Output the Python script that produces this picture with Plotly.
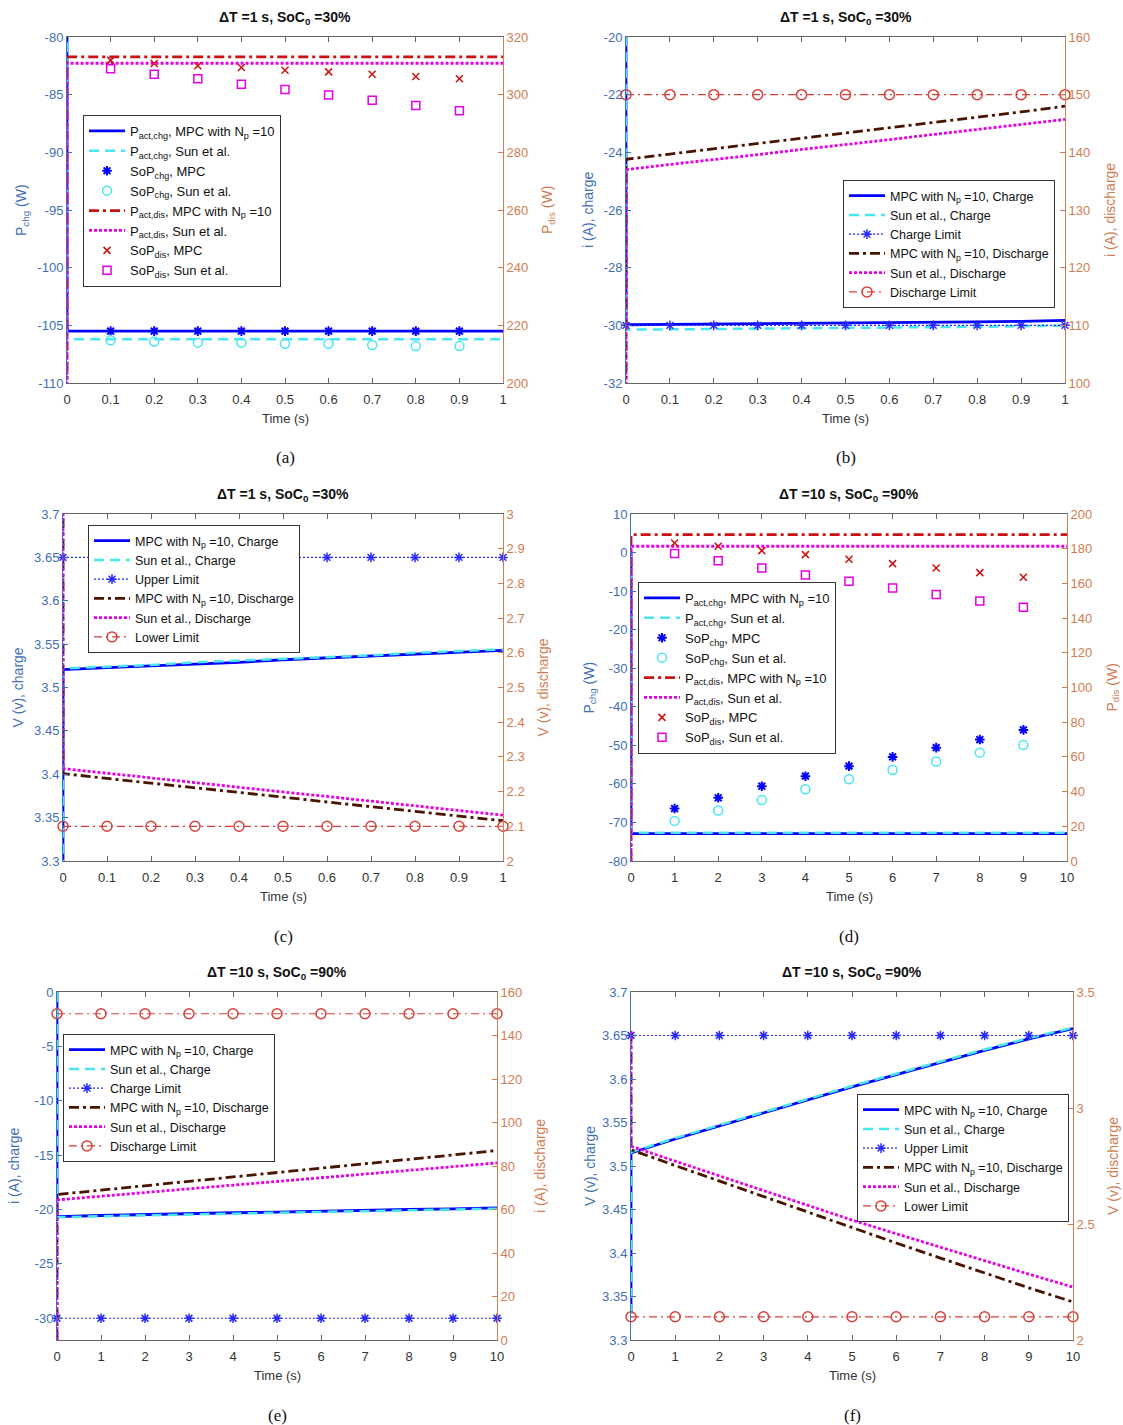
import plotly.graph_objects as go

FIG_W, FIG_H = 1123, 1425

# ---------------- time bases ----------------
# first sample of each line is the rest state at t = 0 (off-scale transient)
T1_LINE = [0, 0, 0.1, 0.2, 0.3, 0.4, 0.5, 0.6, 0.7, 0.8, 0.9, 1.0]
T1_MARK = [0.1, 0.2, 0.3, 0.4, 0.5, 0.6, 0.7, 0.8, 0.9]
T1_LIM = [0, 0.1, 0.2, 0.3, 0.4, 0.5, 0.6, 0.7, 0.8, 0.9, 1.0]
T10_LINE = [0, 0, 1, 2, 3, 4, 5, 6, 7, 8, 9, 10]
T10_MARK = [1, 2, 3, 4, 5, 6, 7, 8, 9]
T10_LIM = [0, 1, 2, 3, 4, 5, 6, 7, 8, 9, 10]

# ---------------- (a) dT = 1 s, SoC0 = 30 %, power ----------------
A_PCHG_MPC = [0, -105.5, -105.5, -105.5, -105.5, -105.5, -105.5, -105.5, -105.5, -105.5, -105.5, -105.5]
A_PCHG_SUN = [0, -106.2, -106.2, -106.2, -106.2, -106.2, -106.2, -106.2, -106.2, -106.2, -106.2, -106.2]
A_SOPCHG_MPC = [-105.5, -105.5, -105.5, -105.5, -105.5, -105.5, -105.5, -105.5, -105.5]
A_SOPCHG_SUN = [-106.3, -106.4, -106.5, -106.5, -106.6, -106.6, -106.7, -106.8, -106.8]
A_PDIS_MPC = [0, 313.1, 313.1, 313.1, 313.1, 313.1, 313.1, 313.1, 313.1, 313.1, 313.1, 313.1]
A_PDIS_SUN = [0, 310.9, 310.9, 310.9, 310.9, 310.9, 310.9, 310.9, 310.9, 310.9, 310.9, 310.9]
A_SOPDIS_MPC = [311.9, 310.8, 310.0, 309.4, 308.5, 307.9, 307.1, 306.3, 305.5]
A_SOPDIS_SUN = [309.0, 307.1, 305.5, 303.6, 301.8, 299.9, 298.1, 296.2, 294.4]

# ---------------- (b) dT = 1 s, SoC0 = 30 %, current ----------------
B_ICHG_MPC = [0, -29.98, -29.97, -29.96, -29.95, -29.94, -29.93, -29.91, -29.90, -29.88, -29.86, -29.83]
B_ICHG_SUN = [0, -30.15, -30.14, -30.13, -30.12, -30.10, -30.09, -30.08, -30.06, -30.05, -30.03, -30.01]
B_CHG_LIMIT = [-30, -30, -30, -30, -30, -30, -30, -30, -30, -30, -30]
B_IDIS_MPC = [0, 138.8, 139.7, 140.6, 141.5, 142.4, 143.3, 144.2, 145.1, 146.1, 147.0, 148.0]
B_IDIS_SUN = [0, 137.0, 137.9, 138.7, 139.6, 140.5, 141.3, 142.2, 143.1, 144.0, 144.8, 145.7]
B_DIS_LIMIT = [150, 150, 150, 150, 150, 150, 150, 150, 150, 150, 150]

# ---------------- (c) dT = 1 s, SoC0 = 30 %, voltage ----------------
C_VCHG_MPC = [3.29, 3.5205, 3.523, 3.525, 3.527, 3.529, 3.532, 3.534, 3.536, 3.538, 3.540, 3.5427]
C_VCHG_SUN = [3.29, 3.522, 3.524, 3.526, 3.529, 3.531, 3.533, 3.535, 3.537, 3.540, 3.542, 3.544]
C_UPPER = [3.65, 3.65, 3.65, 3.65, 3.65, 3.65, 3.65, 3.65, 3.65, 3.65, 3.65]
C_VDIS_MPC = [3.29, 2.252, 2.238, 2.225, 2.211, 2.198, 2.184, 2.170, 2.157, 2.143, 2.130, 2.116]
C_VDIS_SUN = [3.29, 2.266, 2.253, 2.239, 2.226, 2.212, 2.199, 2.186, 2.172, 2.159, 2.145, 2.132]
C_LOWER = [2.1, 2.1, 2.1, 2.1, 2.1, 2.1, 2.1, 2.1, 2.1, 2.1, 2.1]

# ---------------- (d) dT = 10 s, SoC0 = 90 %, power ----------------
D_PCHG_MPC = [0, -72.9, -72.9, -72.9, -72.9, -72.9, -72.9, -72.9, -72.9, -72.9, -72.9, -72.9]
D_PCHG_SUN = [0, -72.7, -72.7, -72.7, -72.7, -72.7, -72.7, -72.7, -72.7, -72.7, -72.7, -72.7]
D_SOPCHG_MPC = [-66.4, -63.6, -60.6, -58.0, -55.4, -53.0, -50.6, -48.5, -46.0]
D_SOPCHG_SUN = [-69.6, -66.9, -64.2, -61.4, -58.8, -56.4, -54.2, -51.9, -49.9]
D_PDIS_MPC = [0, 188.1, 188.1, 188.1, 188.1, 188.1, 188.1, 188.1, 188.1, 188.1, 188.1, 188.1]
D_PDIS_SUN = [0, 181.4, 181.4, 181.4, 181.4, 181.4, 181.4, 181.4, 181.4, 181.4, 181.4, 181.4]
D_SOPDIS_MPC = [183.3, 181.4, 178.9, 176.6, 173.9, 171.4, 168.9, 166.2, 163.5]
D_SOPDIS_SUN = [177.2, 173.1, 168.9, 164.9, 161.2, 157.4, 153.6, 149.9, 146.3]

# ---------------- (e) dT = 10 s, SoC0 = 90 %, current ----------------
E_ICHG_MPC = [0, -20.65, -20.55, -20.45, -20.40, -20.30, -20.25, -20.15, -20.10, -20.00, -19.95, -19.85]
E_ICHG_SUN = [0, -20.72, -20.62, -20.53, -20.46, -20.37, -20.30, -20.22, -20.15, -20.07, -20.00, -19.92]
E_CHG_LIMIT = [-30, -30, -30, -30, -30, -30, -30, -30, -30, -30, -30]
E_IDIS_MPC = [0, 66.9, 68.9, 70.9, 72.9, 74.9, 76.9, 79.0, 81.0, 83.0, 85.1, 87.1]
E_IDIS_SUN = [0, 64.4, 66.1, 67.8, 69.5, 71.2, 72.9, 74.6, 76.3, 78.0, 79.7, 81.4]
E_DIS_LIMIT = [150, 150, 150, 150, 150, 150, 150, 150, 150, 150, 150]

# ---------------- (f) dT = 10 s, SoC0 = 90 %, voltage ----------------
F_VCHG_MPC = [3.33, 3.515, 3.531, 3.546, 3.561, 3.576, 3.591, 3.605, 3.619, 3.633, 3.646, 3.658]
F_VCHG_SUN = [3.33, 3.516, 3.532, 3.547, 3.562, 3.577, 3.592, 3.606, 3.620, 3.634, 3.647, 3.659]
F_UPPER = [3.65, 3.65, 3.65, 3.65, 3.65, 3.65, 3.65, 3.65, 3.65, 3.65, 3.65]
F_VDIS_MPC = [3.33, 2.820, 2.752, 2.685, 2.618, 2.550, 2.483, 2.418, 2.353, 2.288, 2.225, 2.164]
F_VDIS_SUN = [3.33, 2.835, 2.771, 2.707, 2.643, 2.580, 2.517, 2.458, 2.399, 2.341, 2.284, 2.228]
F_LOWER = [2.1, 2.1, 2.1, 2.1, 2.1, 2.1, 2.1, 2.1, 2.1, 2.1, 2.1]

# ---------------- tick labels ----------------
XT_1 = [0, 0.1, 0.2, 0.3, 0.4, 0.5, 0.6, 0.7, 0.8, 0.9, 1]
XT_10 = [0, 1, 2, 3, 4, 5, 6, 7, 8, 9, 10]
YT_A_L = [-110, -105, -100, -95, -90, -85, -80]
YT_A_R = [200, 220, 240, 260, 280, 300, 320]
YT_B_L = [-32, -30, -28, -26, -24, -22, -20]
YT_B_R = [100, 110, 120, 130, 140, 150, 160]
YT_V_L = [3.3, 3.35, 3.4, 3.45, 3.5, 3.55, 3.6, 3.65, 3.7]
YT_C_R = [2, 2.1, 2.2, 2.3, 2.4, 2.5, 2.6, 2.7, 2.8, 2.9, 3]
YT_D_L = [-80, -70, -60, -50, -40, -30, -20, -10, 0, 10]
YT_D_R = [0, 20, 40, 60, 80, 100, 120, 140, 160, 180, 200]
YT_E_L = [-30, -25, -20, -15, -10, -5, 0]
YT_E_R = [0, 20, 40, 60, 80, 100, 120, 140, 160]
YT_F_R = [2, 2.5, 3, 3.5]

TITLE_1 = "<b>ΔT =1 s, SoC<sub>0</sub> =30%</b>"
TITLE_10 = "<b>ΔT =10 s, SoC<sub>0</sub> =90%</b>"

# ---------------- styling ----------------
FONT = "Liberation Sans, Arial, sans-serif"
LEFT_C = "#3f6fb5"
RIGHT_C = "#cf7d52"
AX_C = "#666666"
BLUE = "#0000ff"
CYAN = "#4ae6f0"
RED = "#cc1111"
MAG = "#e600e6"
BROWN = "#4a1400"
LIMRED = "#d8403a"
LIMBLUE = "#2a2aff"

# pixel boxes of the 6 plot areas (left, right, top, bottom)
BOXES = [(67, 503, 37, 383), (626, 1065, 37, 383), (63, 503, 514, 861),
         (631, 1067, 514, 861), (57, 497, 992, 1340), (631, 1073, 992, 1340)]
LEFT_TITLE_X = [22, 588, 18, 590, 14, 590]
RIGHT_TITLE_X = [548, 1110, 543, 1113, 540, 1113]
LEGEND_POS = [(83, 115), (843, 180), (88, 525), (638, 582), (63, 1034), (857, 1094)]
LEGEND_FONT = [13, 12.5, 12.5, 13, 12.5, 12.5]
CAPTIONS = ["(a)", "(b)", "(c)", "(d)", "(e)", "(f)"]


def px(x):
    return x / FIG_W


def py(y):
    return 1 - y / FIG_H


def fmt(v):
    return f"{v:g}"


fig = go.Figure()


def axis_ids(i, side):
    xa = "x" if i == 0 else f"x{i+1}"
    if side == "L":
        ya = "y" if i == 0 else f"y{2*i+1}"
    else:
        ya = f"y{2*i+2}"
    return xa, ya


def add_line(i, side, x, y, name, color, width, dash, legend):
    xa, ya = axis_ids(i, side)
    fig.add_trace(go.Scatter(
        x=x, y=y, mode="lines", name=name,
        line=dict(color=color, width=width, dash=dash),
        xaxis=xa, yaxis=ya, legend=legend, showlegend=True))


def add_marks(i, side, x, y, name, color, symbol, size, legend, lw=1.5):
    xa, ya = axis_ids(i, side)
    fig.add_trace(go.Scatter(
        x=x, y=y, mode="markers", name=name, cliponaxis=False,
        marker=dict(symbol=symbol, size=size, color=color,
                    line=dict(color=color, width=lw)),
        xaxis=xa, yaxis=ya, legend=legend, showlegend=True))


def add_limit(i, side, x, y, name, color, dash, symbol, size, legend, lw=1.2):
    xa, ya = axis_ids(i, side)
    fig.add_trace(go.Scatter(
        x=x, y=y, mode="lines+markers", name=name, cliponaxis=False,
        line=dict(color=color, width=lw, dash=dash),
        marker=dict(symbol=symbol, size=size, color=color,
                    line=dict(color=color, width=1.5)),
        xaxis=xa, yaxis=ya, legend=legend, showlegend=True))


DASH = "10px,6px"
DASHDOT = "10px,4px,3px,4px"
DOT = "3px,2px"
LIMDOT = "2px,2px"
LIMDASHDOT = "8px,4px,2px,4px"


def power_panel(i, t_line, t_mark, chg_mpc, chg_sun, sop_chg_mpc, sop_chg_sun,
                dis_mpc, dis_sun, sop_dis_mpc, sop_dis_sun):
    lg = "legend" if i == 0 else f"legend{i+1}"
    add_line(i, "L", t_line, chg_mpc, "P<sub>act,chg</sub>, MPC with N<sub>p</sub> =10", BLUE, 2.8, "solid", lg)
    add_line(i, "L", t_line, chg_sun, "P<sub>act,chg</sub>, Sun et al.", CYAN, 2.5, DASH, lg)
    add_marks(i, "L", t_mark, sop_chg_mpc, "SoP<sub>chg</sub>, MPC", BLUE, "asterisk-open", 8, lg, 2)
    add_marks(i, "L", t_mark, sop_chg_sun, "SoP<sub>chg</sub>, Sun et al.", CYAN, "circle-open", 9, lg)
    add_line(i, "R", t_line, dis_mpc, "P<sub>act,dis</sub>, MPC with N<sub>p</sub> =10", RED, 2.8, DASHDOT, lg)
    add_line(i, "R", t_line, dis_sun, "P<sub>act,dis</sub>, Sun et al.", MAG, 2.8, DOT, lg)
    add_marks(i, "R", t_mark, sop_dis_mpc, "SoP<sub>dis</sub>, MPC", RED, "x-thin-open", 7, lg)
    add_marks(i, "R", t_mark, sop_dis_sun, "SoP<sub>dis</sub>, Sun et al.", MAG, "square-open", 8, lg)


def sig_panel(i, t_line, t_lim, chg_mpc, chg_sun, chg_lim, dis_mpc, dis_sun, dis_lim,
              chg_lim_name, dis_lim_name):
    lg = "legend" if i == 0 else f"legend{i+1}"
    add_line(i, "L", t_line, chg_mpc, "MPC with N<sub>p</sub> =10, Charge", BLUE, 2.8, "solid", lg)
    add_line(i, "L", t_line, chg_sun, "Sun et al., Charge", CYAN, 2.5, DASH, lg)
    add_limit(i, "L", t_lim, chg_lim, chg_lim_name, LIMBLUE, LIMDOT, "asterisk-open", 8, lg)
    add_line(i, "R", t_line, dis_mpc, "MPC with N<sub>p</sub> =10, Discharge", BROWN, 2.8, DASHDOT, lg)
    add_line(i, "R", t_line, dis_sun, "Sun et al., Discharge", MAG, 2.8, DOT, lg)
    add_limit(i, "R", t_lim, dis_lim, dis_lim_name, LIMRED, LIMDASHDOT, "circle-open", 10, lg)


power_panel(0, T1_LINE, T1_MARK, A_PCHG_MPC, A_PCHG_SUN, A_SOPCHG_MPC, A_SOPCHG_SUN,
            A_PDIS_MPC, A_PDIS_SUN, A_SOPDIS_MPC, A_SOPDIS_SUN)
sig_panel(1, T1_LINE, T1_LIM, B_ICHG_MPC, B_ICHG_SUN, B_CHG_LIMIT, B_IDIS_MPC, B_IDIS_SUN,
          B_DIS_LIMIT, "Charge Limit", "Discharge Limit")
sig_panel(2, T1_LINE, T1_LIM, C_VCHG_MPC, C_VCHG_SUN, C_UPPER, C_VDIS_MPC, C_VDIS_SUN,
          C_LOWER, "Upper Limit", "Lower Limit")
power_panel(3, T10_LINE, T10_MARK, D_PCHG_MPC, D_PCHG_SUN, D_SOPCHG_MPC, D_SOPCHG_SUN,
            D_PDIS_MPC, D_PDIS_SUN, D_SOPDIS_MPC, D_SOPDIS_SUN)
sig_panel(4, T10_LINE, T10_LIM, E_ICHG_MPC, E_ICHG_SUN, E_CHG_LIMIT, E_IDIS_MPC, E_IDIS_SUN,
          E_DIS_LIMIT, "Charge Limit", "Discharge Limit")
sig_panel(5, T10_LINE, T10_LIM, F_VCHG_MPC, F_VCHG_SUN, F_UPPER, F_VDIS_MPC, F_VDIS_SUN,
          F_LOWER, "Upper Limit", "Lower Limit")

# ---------------- axes ----------------
AXES = [
    dict(xr=[0, 1], xt=XT_1, yl=[-110, -80], ylt=YT_A_L, yr=[200, 320], yrt=YT_A_R,
         title=TITLE_1, lt="P<sub>chg</sub> (W)", rt="P<sub>dis</sub> (W)"),
    dict(xr=[0, 1], xt=XT_1, yl=[-32, -20], ylt=YT_B_L, yr=[100, 160], yrt=YT_B_R,
         title=TITLE_1, lt="i (A), charge", rt="i (A), discharge"),
    dict(xr=[0, 1], xt=XT_1, yl=[3.3, 3.7], ylt=YT_V_L, yr=[2, 3], yrt=YT_C_R,
         title=TITLE_1, lt="V (v), charge", rt="V (v), discharge"),
    dict(xr=[0, 10], xt=XT_10, yl=[-80, 10], ylt=YT_D_L, yr=[0, 200], yrt=YT_D_R,
         title=TITLE_10, lt="P<sub>chg</sub> (W)", rt="P<sub>dis</sub> (W)"),
    dict(xr=[0, 10], xt=XT_10, yl=[-32, 0], ylt=YT_E_L, yr=[0, 160], yrt=YT_E_R,
         title=TITLE_10, lt="i (A), charge", rt="i (A), discharge"),
    dict(xr=[0, 10], xt=XT_10, yl=[3.3, 3.7], ylt=YT_V_L, yr=[2, 3.5], yrt=YT_F_R,
         title=TITLE_10, lt="V (v), charge", rt="V (v), discharge"),
]

layout = dict(width=FIG_W, height=FIG_H, margin=dict(l=0, r=0, t=0, b=0),
              paper_bgcolor="white", plot_bgcolor="white",
              font=dict(family=FONT, size=12, color="#262626"))
annotations = []


def ann(text, x, y, size, color, angle=0, family=FONT):
    return dict(text=text, x=px(x), y=py(y), xref="paper", yref="paper",
                xanchor="center", yanchor="middle", showarrow=False,
                textangle=angle, font=dict(size=size, color=color, family=family))


for i, (ax, box) in enumerate(zip(AXES, BOXES)):
    l, r, t, b = box
    xn = "xaxis" if i == 0 else f"xaxis{i+1}"
    xid = "x" if i == 0 else f"x{i+1}"
    yl_n = "yaxis" if i == 0 else f"yaxis{2*i+1}"
    yl_id = "y" if i == 0 else f"y{2*i+1}"
    yr_n = f"yaxis{2*i+2}"
    layout[xn] = dict(domain=[px(l), px(r)], anchor=yl_id, range=ax["xr"],
                      tickvals=ax["xt"], ticktext=[fmt(v) for v in ax["xt"]],
                      ticks="inside", ticklen=5, tickcolor=AX_C, showline=True,
                      linecolor=AX_C, linewidth=1, mirror="ticks", showgrid=False,
                      zeroline=False, tickfont=dict(size=13, color="#333333"),
                      ticklabelstandoff=4, automargin=False)
    layout[yl_n] = dict(domain=[py(b), py(t)], anchor=xid, range=ax["yl"],
                        tickvals=ax["ylt"], ticktext=[fmt(v) for v in ax["ylt"]],
                        ticks="inside", ticklen=5, tickcolor=LEFT_C, showline=True,
                        linecolor=LEFT_C, linewidth=1, showgrid=False, zeroline=False,
                        tickfont=dict(size=13, color=LEFT_C), automargin=False)
    layout[yr_n] = dict(overlaying=yl_id, side="right", anchor=xid, range=ax["yr"],
                        tickvals=ax["yrt"], ticktext=[fmt(v) for v in ax["yrt"]],
                        ticks="inside", ticklen=5, tickcolor=RIGHT_C, showline=True,
                        linecolor=RIGHT_C, linewidth=1, showgrid=False, zeroline=False,
                        tickfont=dict(size=13, color=RIGHT_C), automargin=False)
    cx = (l + r) / 2
    cy = (t + b) / 2
    annotations += [
        ann(ax["title"], cx, t - 19, 14, "#111111"),
        ann("Time (s)", cx, b + 35, 13, "#333333"),
        ann(CAPTIONS[i], cx, b + 75, 17, "#111111",
            family="Liberation Serif, Times New Roman, serif"),
        ann(ax["lt"], LEFT_TITLE_X[i], cy, 14, LEFT_C, -90),
        ann(ax["rt"], RIGHT_TITLE_X[i], cy, 14, RIGHT_C, -90),
    ]
    lx, ly = LEGEND_POS[i]
    lname = "legend" if i == 0 else f"legend{i+1}"
    layout[lname] = dict(x=px(lx), y=py(ly), xanchor="left", yanchor="top",
                         xref="paper", yref="paper",
                         bgcolor="white", bordercolor="#333333", borderwidth=1,
                         font=dict(size=LEGEND_FONT[i], color="#111111", family=FONT),
                         tracegroupgap=0, itemwidth=36)

layout["annotations"] = annotations
fig.update_layout(**layout)
fig.write_html("out.html")
